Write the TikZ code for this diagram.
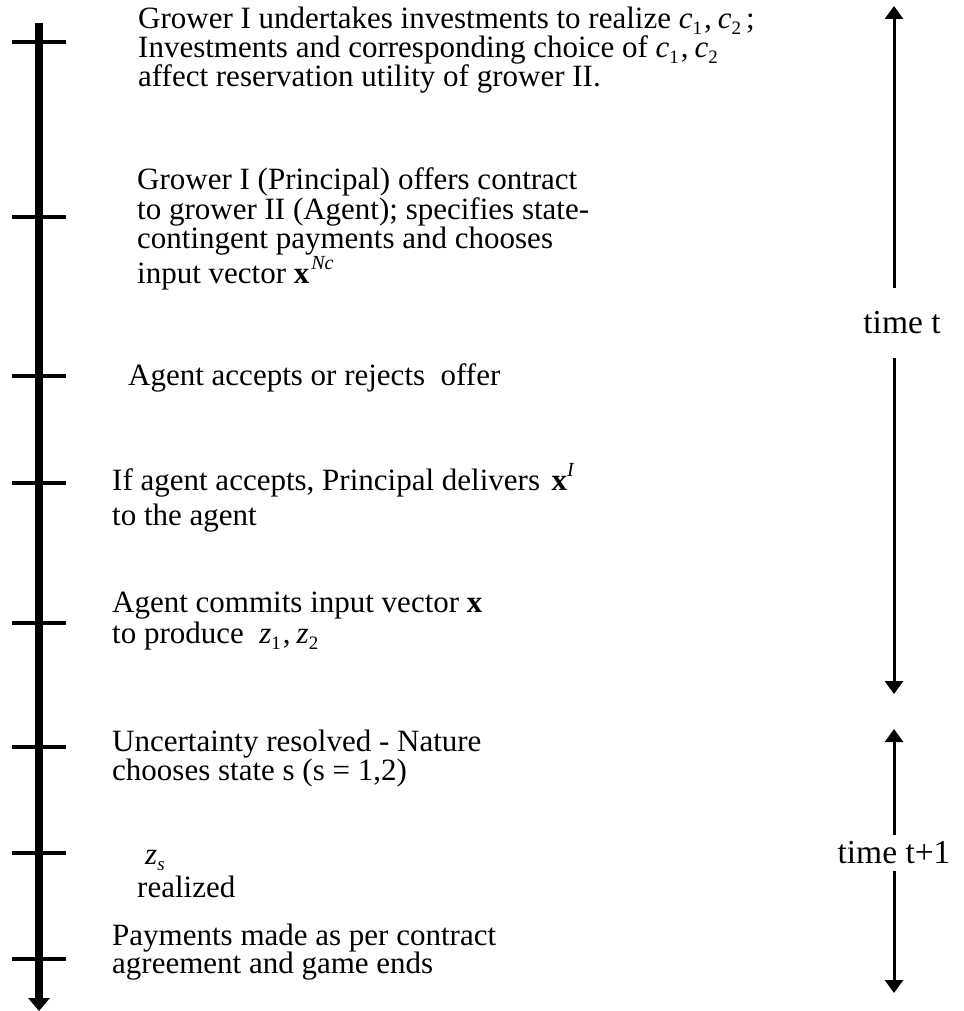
\documentclass[tikz,border=0pt]{standalone}
\usepackage{fontspec}
\setmainfont{Liberation Serif}
\usepackage{tikz}
\usetikzlibrary{arrows.meta,positioning,calc}
% small raised / lowered indices
\newcommand{\subix}[1]{\raisebox{-0.2em}{\fontsize{19}{19}\selectfont #1}}
\newcommand{\supix}[1]{\raisebox{0.45em}{\fontsize{20}{20}\selectfont\itshape #1}}
\newcommand{\pair}[1]{{\itshape #1}\subix{1}\kern2pt,\kern6pt{\itshape #1}\subix{2}}

\begin{document}
\begin{tikzpicture}[
    x=1pt, y=-1pt,
    event/.style={
        anchor=base west,% base = baseline of the last line
        inner sep=0pt,
        align=left,
        font=\fontsize{31}{25}\selectfont},
    tick/.style={line width=3.5pt},
    axis/.style={line width=8pt, -{Triangle[width=21pt,length=13pt]}},%主时间轴
    period/.style={line width=3pt, -{Triangle[width=18pt,length=13pt]}},
    periodlabel/.style={inner sep=0pt, font=\fontsize{33.5}{25}\selectfont}]
  \useasboundingbox (0,0) rectangle (963,1011);
  % the time axis with its ticks
  \coordinate (axtop) at (39,23);
  \coordinate (axend) at (39,1011);
  \draw[axis] (axtop) -- (axend);
  \foreach \y in {42,217,376,483,623,747,853,959}
    \draw[tick] (12,\y) -- (66,\y);
  % the events
  \node (invest) [event] at (138,87) {Grower I undertakes investments to realize \pair{c}\kern5pt;\\
    Investments and corresponding choice of \pair{c}\\
    affect reservation utility of grower II.};
  \node (offer) [event] at (137,283) {Grower I (Principal) offers contract\\
    to grower II (Agent); specifies state-\\
    contingent payments and chooses\\
    input vector \textbf{x}\kern2pt\supix{Nc}};
  \node (accept) [event] at (128,385) {Agent accepts or rejects~ offer};
  \node (deliver) [event] at (112,525) {If agent accepts, Principal delivers\hspace{4pt} \textbf{x}\supix{I}\\[5pt]
    to the agent};
  \node (commit) [event] at (112,643) {Agent commits input vector \textbf{x}\\[1pt]
    to produce~ \pair{z}};
  \node (nature) [event] at (112,780) {Uncertainty resolved - Nature\\[-1pt]
    chooses state s (s = 1,2)};
  \node (realize) [event] at (137,897) {\hspace{8pt}{\itshape z}\subix{\itshape s}\\[4pt]
    realized};
  \node (pay) [event] at (112,973) {Payments made as per contract\\[-2pt]
    agreement and game ends};
  % the two periods
  \coordinate (tTop) at (894,6);
  \coordinate (tEnd) at (894,694);
  \coordinate (uTop) at (894,729);
  \coordinate (uEnd) at (894,993);
  \node (timet) [periodlabel, minimum height=70pt] at (902,323) {time t};
  \node (timeu) [periodlabel, minimum height=36pt] at (894,853) {time t+1};
  \draw[period] (timet.north -| tTop) -- (tTop);
  \draw[period] (timet.south -| tEnd) -- (tEnd);
  \draw[period] (timeu.north) -- (uTop);
  \draw[period] (timeu.south) -- (uEnd);
\end{tikzpicture}
\end{document}
